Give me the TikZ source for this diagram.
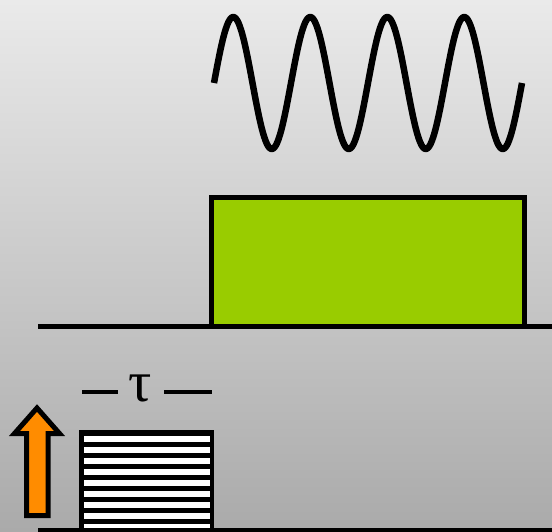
\documentclass[tikz,border=0pt]{standalone}
\usepackage{fontspec}
\setmainfont{Liberation Serif}
\begin{document}
\begin{tikzpicture}[x=1pt,y=-1pt,
  axisline/.style={line width=5pt},
  frame/.style={draw=black,line width=5pt},
  pulse/.style={frame,fill=pumpgreen},
  stripe/.style={fill=white},
  wave/.style={line width=6.5pt,line join=round},
  pumparrow/.style={draw=black,line width=5pt,line join=miter,fill=pumporange},
  gapdash/.style={line width=4.5pt}]
\definecolor{pumpgreen}{RGB}{153,204,0}
\definecolor{pumporange}{RGB}{255,140,0}
\definecolor{bgtop}{RGB}{234,234,234}
\definecolor{bgbottom}{RGB}{170,170,170}

% canvas with vertical gradient
\shade[top color=bgtop,bottom color=bgbottom] (0,0) rectangle (552,532);
\useasboundingbox (0,0) rectangle (552,532);
\clip (0,0) rectangle (552,532);

% oscillating field
\draw[wave] plot[domain=214:522,samples=240,smooth]
  (\x,{83-66*sin(((\x-214)/77)*360)});

% long pulse on the upper time axis
\draw[axisline] (38,326) coordinate (axisA) -- (552,326) coordinate (axisB);
\draw[pulse] (211.5,326) rectangle (524.5,197.5);
\coordinate (pulseTop) at (368,197.5);

% short striped pulse on the lower time axis
\fill[black] (79,430) rectangle (214,532);
\foreach \k in {0,...,8}{
  \fill[stripe] (83.5,436+11*\k) rectangle (209.5,441.5+11*\k);
}
\draw[axisline] (38,530) coordinate (axisC) -- (552,530) coordinate (axisD);

% pulse width label
\node[font=\fontsize{58}{58}\selectfont,inner sep=0pt,anchor=base] (tau) at (140,401) {τ};
\draw[gapdash] (82,392) coordinate (dashLa) -- (118,392) coordinate (dashLb);
\draw[gapdash] (164,392) coordinate (dashRa) -- (212,392) coordinate (dashRb);

% excitation arrow
\draw[pumparrow] (26.5,515.5) -- (26.5,433.5) -- (14.5,433.5) -- (37,408)
  -- (59.5,433.5) -- (48,433.5) -- (48,515.5) -- cycle;
\end{tikzpicture}
\end{document}
